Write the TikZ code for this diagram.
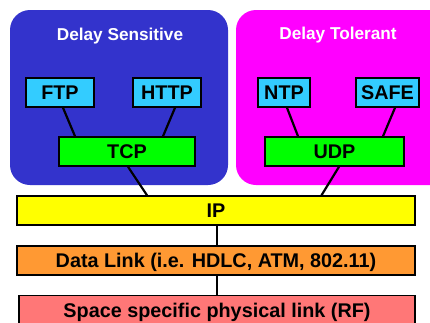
\documentclass[tikz,border=0pt]{standalone}
\usepackage{fontspec}
\setmainfont{Liberation Sans}
\definecolor{dsblue}{RGB}{51,51,204}
\definecolor{dtmag}{RGB}{255,0,255}
\definecolor{appcyan}{RGB}{51,204,255}
\definecolor{tgreen}{RGB}{0,255,0}
\definecolor{ipyellow}{RGB}{255,255,0}
\definecolor{dlorange}{RGB}{255,153,51}
\definecolor{phypink}{RGB}{255,119,119}
\tikzset{
  region/.style={rounded corners=20pt, inner sep=0pt, outer sep=0pt},
  title/.style={text=white, font=\bfseries\fontsize{17.2}{18}\selectfont, anchor=base, inner sep=0pt},
  layer/.style={draw=black, line width=1.5pt, inner sep=0pt, minimum height=29pt,
     text height=14pt, text depth=0pt, font=\bfseries\fontsize{19.8}{20}\selectfont},
  link/.style={line width=2.2pt, black}
}
\begin{document}
\begin{tikzpicture}[x=1pt, y=-1pt]
\useasboundingbox (0,0) rectangle (430,322);
\clip (0,0) rectangle (430,322);
\fill[white] (0,0) rectangle (430,322);
% regions
\node[region, fill=dsblue, minimum width=218pt, minimum height=175pt] (ds) at (119,97.5) {};
\node[region, fill=dtmag, minimum width=214pt, minimum height=175pt] (dt) at (343,97.5) {};
\node[title] (dst) at (120,40) {Delay Sensitive};
\node[title] (dtt) at (338,39.5) {Delay Tolerant};
% boxes
\node[layer, fill=appcyan, minimum width=68pt] (ftp) at (60,92.5) {FTP};
\node[layer, fill=appcyan, minimum width=68pt] (http) at (167,92.5) {HTTP};
\node[layer, fill=tgreen, minimum width=136pt] (tcp) at (127,151.5) {TCP};
\node[layer, fill=appcyan, minimum width=52pt] (ntp) at (284,92.5) {NTP};
\node[layer, fill=appcyan, minimum width=63pt] (safe) at (387.5,92.5) {SAFE};
\node[layer, fill=tgreen, minimum width=139pt] (udp) at (334.5,151.5) {UDP};
\node[layer, fill=ipyellow, minimum width=398pt] (ip) at (216,210.5) {IP};
\node[layer, fill=dlorange, minimum width=398pt] (dl) at (216,260.5) {Data Link (i.e. HDLC, ATM, 802.11)};
\node[layer, fill=phypink, minimum width=396pt] (phy) at (217,310) {Space specific physical link (RF)};
% links
\draw[link] ([xshift=3pt]ftp.south) -- ([xshift=-52pt]tcp.north);
\draw[link] ([xshift=8pt]http.south) -- ([xshift=36pt]tcp.north);
\draw[link] ([xshift=1pt]tcp.south) -- ([xshift=-69pt]ip.north);
\draw[link] ([xshift=3pt]ntp.south) -- ([xshift=-36.5pt]udp.north);
\draw[link] ([xshift=7.5pt]safe.south) -- ([xshift=48.5pt]udp.north);
\draw[link] ([xshift=4.5pt]udp.south) -- ([xshift=105.5pt]ip.north);
\draw[link] ([xshift=1pt]ip.south) -- ([xshift=1pt]dl.north);
\draw[link] ([xshift=1pt]dl.south) -- (phy.north);
\end{tikzpicture}
\end{document}
